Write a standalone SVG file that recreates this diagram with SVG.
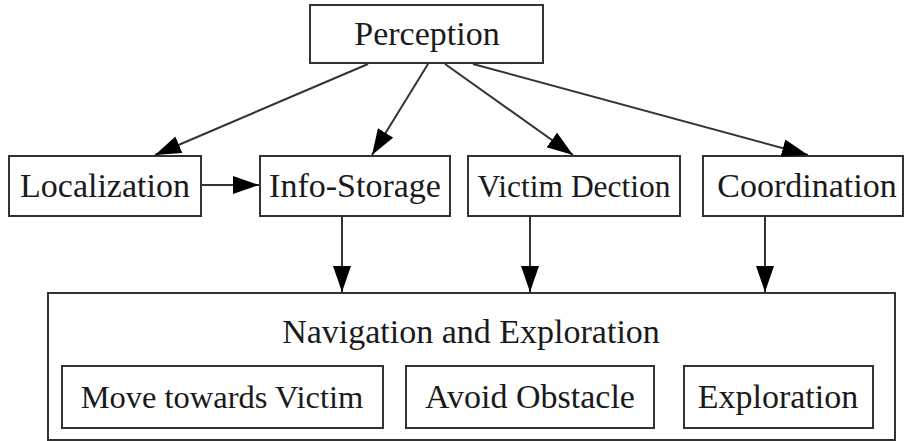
<svg xmlns="http://www.w3.org/2000/svg" width="907" height="441" viewBox="0 0 907 441">
<defs>
<marker id="ah" markerUnits="userSpaceOnUse" markerWidth="28" markerHeight="20" refX="26" refY="9" orient="auto">
<path d="M0,0 L26,9 L0,18 Z" fill="#000"/>
</marker>
<style>
.box{fill:#fff;stroke:#333;stroke-width:2}
.t{font-family:"Liberation Serif","Times New Roman",serif;font-size:34px;fill:#1a1a1a;text-anchor:middle}
.e{stroke:#333;stroke-width:2;fill:none;marker-end:url(#ah)}
</style>
</defs>
<rect width="907" height="441" fill="#fff"/>
<g id="navigation">
<rect class="box" x="48" y="293" width="847" height="147"/>
<text class="t" x="471" y="343">Navigation and Exploration</text>
</g>
<g id="move-towards-victim">
<rect class="box" x="62" y="366" width="321" height="62"/>
<text class="t" x="222" y="408" style="font-size:32.5px">Move towards Victim</text>
</g>
<g id="avoid-obstacle">
<rect class="box" x="406" y="366" width="248" height="62"/>
<text class="t" x="530" y="408">Avoid Obstacle</text>
</g>
<g id="exploration">
<rect class="box" x="684" y="366" width="189" height="62"/>
<text class="t" x="778" y="408">Exploration</text>
</g>
<g id="perception">
<rect class="box" x="310" y="5" width="233" height="58"/>
<text class="t" x="427" y="45">Perception</text>
</g>
<g id="localization">
<rect class="box" x="9" y="156" width="192" height="60"/>
<text class="t" x="105" y="197">Localization</text>
</g>
<g id="info-storage">
<rect class="box" x="260" y="156" width="190" height="60"/>
<text class="t" x="355" y="197">Info-Storage</text>
</g>
<g id="victim-dection">
<rect class="box" x="468" y="156" width="212" height="60"/>
<text class="t" x="574" y="197" style="font-size:31.5px">Victim Dection</text>
</g>
<g id="coordination">
<rect class="box" x="703" y="156" width="200" height="60"/>
<text class="t" x="807" y="197">Coordination</text>
</g>
<g id="connectors">
<line class="e" x1="368" y1="64" x2="155" y2="155"/>
<line class="e" x1="428" y1="64" x2="372" y2="155"/>
<line class="e" x1="445" y1="64" x2="573" y2="155"/>
<line class="e" x1="473" y1="64" x2="808" y2="155"/>
<line class="e" x1="201" y1="185" x2="259" y2="185"/>
<line class="e" x1="342" y1="217" x2="342" y2="292"/>
<line class="e" x1="530" y1="217" x2="530" y2="292"/>
<line class="e" x1="765" y1="217" x2="765" y2="292"/>
</g>
</svg>
